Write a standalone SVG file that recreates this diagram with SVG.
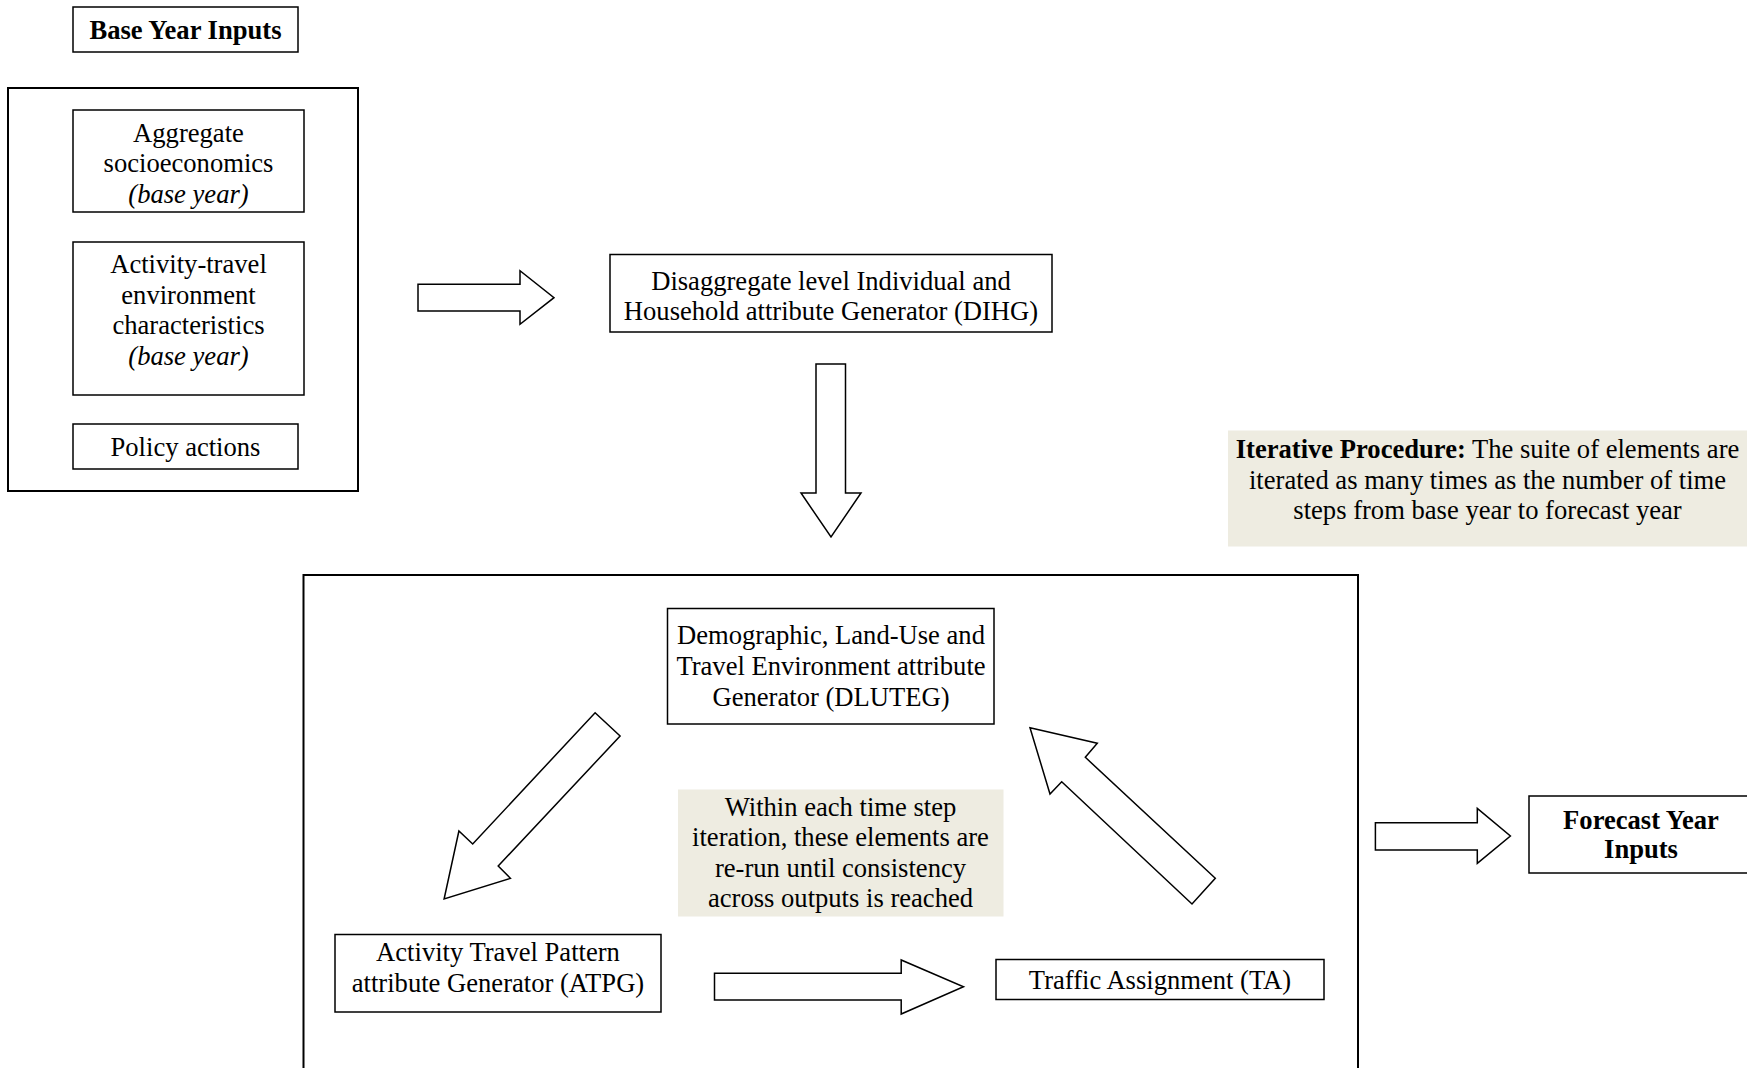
<svg xmlns="http://www.w3.org/2000/svg" width="1747" height="1068" viewBox="0 0 1747 1068">
<style>
text{font-family:"Liberation Serif","Times New Roman",serif;font-size:26.6px;fill:#000;text-anchor:middle}
.b{font-weight:bold}
.i{font-style:italic}
.box{fill:#fff;stroke:#000;stroke-width:1.5}
.outer{fill:none;stroke:#000;stroke-width:2}
.note{fill:#EEECE1;stroke:none}
.arrow{fill:#fff;stroke:#000;stroke-width:1.5;stroke-linejoin:miter}
</style>
<rect width="1747" height="1068" fill="#fff"/>

<g id="base-year-title">
<rect class="box" x="73" y="7" width="225" height="45"/>
<text class="b" x="185.5" y="38.5">Base Year Inputs</text>
</g>

<g id="base-year-group">
<rect class="outer" x="8" y="88" width="350" height="403"/>
</g>

<g id="aggregate">
<rect class="box" x="73" y="110" width="231" height="102"/>
<text x="188.5" y="141.5">Aggregate</text>
<text x="188.5" y="172">socioeconomics</text>
<text class="i" x="188.5" y="202.5">(base year)</text>
</g>

<g id="activity-travel">
<rect class="box" x="73" y="242" width="231" height="153"/>
<text x="188.5" y="273">Activity-travel</text>
<text x="188.5" y="303.5">environment</text>
<text x="188.5" y="334">characteristics</text>
<text class="i" x="188.5" y="364.5">(base year)</text>
</g>

<g id="policy">
<rect class="box" x="73" y="424" width="225" height="45"/>
<text x="185.5" y="455.5">Policy actions</text>
</g>

<g id="dihg">
<rect class="box" x="610" y="254.5" width="442" height="77.5"/>
<text x="831" y="289.5">Disaggregate level Individual and</text>
<text x="831" y="320">Household attribute Generator (DIHG)</text>
</g>

<g id="iterative-note">
<rect class="note" x="1228" y="430.5" width="519" height="116"/>
<text x="1487.5" y="457.5"><tspan class="b">Iterative Procedure:</tspan> The suite of elements are</text>
<text x="1487.5" y="488.5">iterated as many times as the number of time</text>
<text x="1487.5" y="519">steps from base year to forecast year</text>
</g>

<g id="iteration-group">
<rect class="outer" x="303.5" y="575" width="1054.5" height="494"/>
</g>

<g id="dluteg">
<rect class="box" x="667.5" y="608.5" width="326.5" height="115.5"/>
<text x="831" y="643.5">Demographic, Land-Use and</text>
<text x="831" y="674.5">Travel Environment attribute</text>
<text x="831" y="705.5">Generator (DLUTEG)</text>
</g>

<g id="consistency-note">
<rect class="note" x="678" y="789.5" width="325.5" height="127"/>
<text x="840.5" y="815.5">Within each time step</text>
<text x="840.5" y="846">iteration, these elements are</text>
<text x="840.5" y="876.5">re-run until consistency</text>
<text x="840.5" y="907">across outputs is reached</text>
</g>

<g id="atpg">
<rect class="box" x="335" y="934.5" width="326" height="77.5"/>
<text x="498" y="961">Activity Travel Pattern</text>
<text x="498" y="991.5">attribute Generator (ATPG)</text>
</g>

<g id="ta">
<rect class="box" x="996" y="959.5" width="328" height="40"/>
<text x="1160" y="989">Traffic Assignment (TA)</text>
</g>

<g id="forecast">
<rect class="box" x="1529" y="796" width="240" height="77"/>
<text class="b" x="1641" y="829">Forecast Year</text>
<text class="b" x="1641" y="857.5">Inputs</text>
</g>

<g id="connectors">
<polygon class="arrow" points="418,284.3 520,284.3 520,270.7 554,297.7 520,324.3 520,311 418,311"/>
<polygon class="arrow" points="816,364 845.5,364 845.5,493 861,493 831,537 801,493 816,493"/>
<polygon class="arrow" points="595.1,712.7 620.1,736 498.2,866 510.4,878.3 444.1,899 458.9,831 472.7,844"/>
<polygon class="arrow" points="714.5,973.3 901.2,973.3 901.2,960 963.5,986.7 901.2,1014 901.2,1000 714.5,1000"/>
<polygon class="arrow" points="1030,727.7 1097.3,743.3 1085.3,757.3 1215.3,878.3 1192,904 1061.7,781.7 1050,794"/>
<polygon class="arrow" points="1375.4,822.7 1477.3,822.7 1477.3,808.3 1510.4,836 1477.3,863.3 1477.3,850 1375.4,850"/>
</g>
</svg>
